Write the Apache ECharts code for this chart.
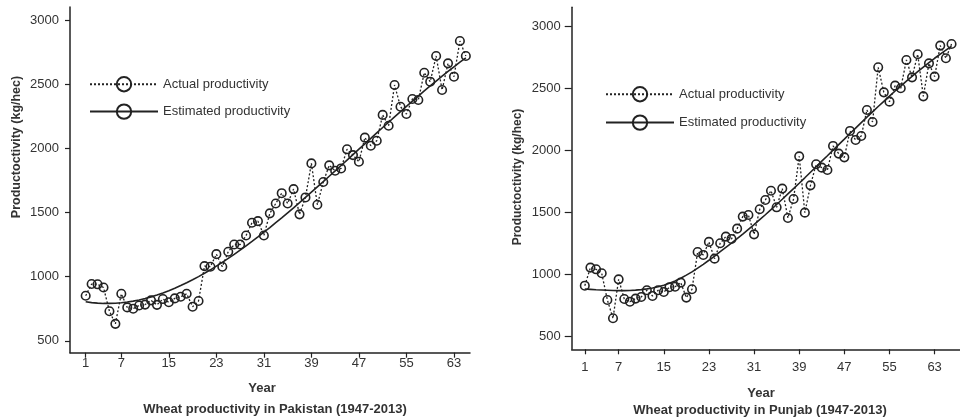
<!DOCTYPE html>
<html>
<head>
<meta charset="utf-8">
<script src="https://cdn.jsdelivr.net/npm/echarts@6/dist/echarts.min.js"></script>
<style>
html,body{margin:0;padding:0;background:#fff;}
#chart{width:960px;height:419px;}
</style>
</head>
<body>
<div id="chart"></div>
<script>
// ---- Data ----
const yearsPakistan = [1,2,3,4,5,6,7,8,9,10,11,12,13,14,15,16,17,18,19,20,21,22,23,24,25,26,27,28,29,30,31,32,33,34,35,36,37,38,39,40,41,42,43,44,45,46,47,48,49,50,51,52,53,54,55,56,57,58,59,60,61,62,63,64,65];
const actualPakistan = [851,942,940,915,730,632,866,760,750,775,782,815,780,825,800,830,843,866,765,810,1082,1077,1175,1077,1194,1250,1250,1320,1420,1432,1320,1493,1570,1650,1570,1682,1485,1617,1882,1560,1737,1867,1825,1843,1992,1947,1895,2083,2020,2059,2260,2176,2493,2324,2267,2384,2376,2589,2519,2719,2454,2662,2558,2836,2719];
const estimatedPakistan = [804,797,793,791,791,792,796,802,809,818,829,842,857,873,890,909,930,952,975,1000,1026,1053,1082,1111,1142,1173,1206,1240,1274,1309,1346,1382,1420,1458,1497,1536,1576,1617,1658,1699,1740,1782,1824,1866,1908,1950,1993,2035,2077,2120,2162,2203,2245,2286,2327,2367,2407,2447,2486,2524,2562,2599,2635,2671,2705];

const yearsPunjab = [1,2,3,4,5,6,7,8,9,10,11,12,13,14,15,16,17,18,19,20,21,22,23,24,25,26,27,28,29,30,31,32,33,34,35,36,37,38,39,40,41,42,43,44,45,46,47,48,49,50,51,52,53,54,55,56,57,58,59,60,61,62,63,64,65,66];
const actualPunjab = [911,1057,1043,1011,796,648,962,804,782,807,820,874,828,874,860,898,903,936,815,882,1183,1159,1264,1129,1253,1307,1288,1371,1468,1481,1325,1527,1602,1677,1543,1694,1457,1610,1954,1500,1720,1890,1863,1844,2038,1976,1946,2159,2086,2118,2328,2231,2672,2470,2395,2524,2503,2731,2591,2777,2438,2704,2597,2847,2745,2860];
const estimatedPunjab = [884,881,878,876,874,872,871,871,872,875,879,885,893,903,915,931,949,971,996,1022,1052,1083,1116,1150,1186,1220,1254,1290,1327,1365,1403,1443,1483,1524,1566,1608,1651,1694,1737,1781,1826,1870,1915,1959,2004,2049,2093,2138,2182,2226,2270,2313,2356,2398,2440,2481,2521,2561,2599,2637,2674,2710,2745,2779,2811,2842];

const xTickValues = [1,7,15,23,31,39,47,55,63];
const yTickValues = [500,1000,1500,2000,2500,3000];

const seriesNames = ['Actual productivity','Estimated productivity'];
const yAxisTitle = 'Productoctivity (kg/hec)';
const xAxisTitle = 'Year';
const panelTitles = ['Wheat productivity in Pakistan (1947-2013)','Wheat productivity in Punjab (1947-2013)'];

// ---- Build ----
const pairs = (xs, ys) => xs.map((x, i) => [x, ys[i]]);
const INK = '#222';
const TXT = '#333';
const FONT = 'Liberation Sans, Arial, sans-serif';

function xAxisFor(gridIndex, min, max, labelMargin) {
  return {
    type: 'value', gridIndex, min, max,
    axisLine: {show: true, onZero: false, lineStyle: {color: INK, width: 1.5}},
    axisTick: {show: true, length: 5, lineStyle: {color: INK, width: 1.2}, customValues: xTickValues},
    axisLabel: {color: TXT, fontSize: 13, fontFamily: FONT, margin: labelMargin, customValues: xTickValues, formatter: v => String(v)},
    splitLine: {show: false}
  };
}
function yAxisFor(gridIndex, min, max, tickLen) {
  return {
    type: 'value', gridIndex, min, max,
    axisLine: {show: true, onZero: false, lineStyle: {color: INK, width: 1.5}},
    axisTick: {show: true, length: tickLen, lineStyle: {color: INK, width: 1.2}, customValues: yTickValues},
    axisLabel: {color: TXT, fontSize: 13, fontFamily: FONT, margin: 11, customValues: yTickValues, formatter: v => String(v)},
    splitLine: {show: false}
  };
}
function actualSeries(idx, xs, ys) {
  return {
    name: seriesNames[0], type: 'line', xAxisIndex: idx, yAxisIndex: idx,
    data: pairs(xs, ys),
    symbol: 'circle', symbolSize: 8.5, showSymbol: true,
    lineStyle: {type: [2, 2], width: 1.3, color: INK},
    itemStyle: {color: 'rgba(255,255,255,0)', borderColor: INK, borderWidth: 1.6},
    z: 3, animation: false
  };
}
function estimatedSeries(idx, xs, ys) {
  return {
    name: seriesNames[1], type: 'line', xAxisIndex: idx, yAxisIndex: idx,
    data: pairs(xs, ys),
    symbol: 'circle', symbolSize: 8, showSymbol: false,
    lineStyle: {type: 'solid', width: 1.6, color: INK},
    itemStyle: {color: 'rgba(255,255,255,0)', borderColor: INK, borderWidth: 1.6},
    z: 2, animation: false
  };
}
function legendFor(left, top, gap) {
  return {
    data: seriesNames, orient: 'vertical', left, top, itemGap: gap,
    itemWidth: 68, itemHeight: 18, selectedMode: false,
    textStyle: {color: TXT, fontSize: 13, fontFamily: FONT}
  };
}
function label(text, x, y, font, rotation) {
  return {
    type: 'text', x, y, rotation: rotation || 0,
    style: {text, fill: TXT, font: font || ('bold 13px ' + FONT), textAlign: 'center', textVerticalAlign: 'middle'}
  };
}

const chart = echarts.init(document.getElementById('chart'), null, {renderer: 'canvas'});
chart.setOption({
  backgroundColor: '#fff',
  animation: false,
  grid: [
    {left: 70, top: 7, width: 400, height: 345.7},
    {left: 571.7, top: 7.3, width: 394, height: 342}
  ],
  xAxis: [xAxisFor(0, -1.64, 65.7, 4), xAxisFor(1, -1.32, 67.5, 12)],
  yAxis: [yAxisFor(0, 407, 3101, 5), yAxisFor(1, 398, 3156, 7)],
  legend: [legendFor(84, 71, 11), legendFor(600, 81, 12)],
  series: [
    estimatedSeries(0, yearsPakistan, estimatedPakistan),
    actualSeries(0, yearsPakistan, actualPakistan),
    estimatedSeries(1, yearsPunjab, estimatedPunjab),
    actualSeries(1, yearsPunjab, actualPunjab)
  ],
  graphic: [
    label(yAxisTitle, 17, 147, 'bold 12.5px ' + FONT, Math.PI / 2),
    label(yAxisTitle, 518, 177, 'bold 12px ' + FONT, Math.PI / 2),
    label(xAxisTitle, 262, 388),
    label(xAxisTitle, 761, 393),
    label(panelTitles[0], 275, 409),
    label(panelTitles[1], 760, 410)
  ]
});
</script>
</body>
</html>
